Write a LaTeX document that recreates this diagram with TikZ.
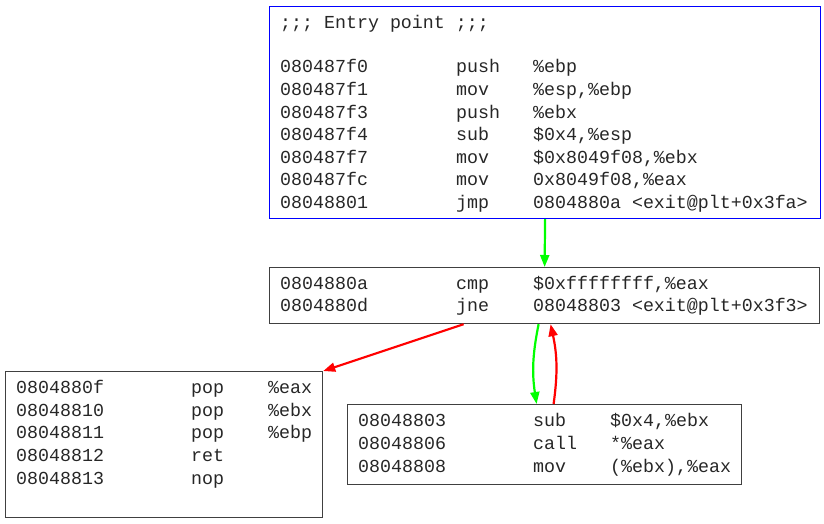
\documentclass[tikz,border=0pt]{standalone}
\usepackage{fontspec}
\setmonofont{Liberation Mono}
\usetikzlibrary{arrows.meta}

\begin{document}
\begin{tikzpicture}[x=1pt,y=-1pt,
		blk/.style={draw=black!75, line width=1.2pt, anchor=north west, inner sep=0pt},
		asm/.style={anchor=base west, inner sep=0pt, text=black!85, font=\ttfamily\fontsize{18.3}{22}\selectfont},
		flow/.style={line width=2.2pt, -{Triangle[length=12pt,width=9pt]}}]
		\useasboundingbox (0,0) rectangle (824,523);

		% basic blocks
		\node[blk, draw=blue, minimum width=551, minimum height=212] (entry) at (269,6) {};
		\node[blk, minimum width=550, minimum height=56] (loop) at (269,267) {};
		\node[blk, minimum width=317, minimum height=146] (exit) at (5,371) {};
		\node[blk, minimum width=394, minimum height=80] (body) at (347,404) {};

		\def \xa {280}
		\def \xb {16}
		\def \xc {358}

		\node[asm] (title) at (\xa,28) {;;; Entry point ;;;};
		\foreach \addr/\op/\arg [count=\i] in {080487f0/push/\%ebp, {080487f1/mov/\%esp,\%ebp},
			080487f3/push/\%ebx, {080487f4/sub/\$0x4,\%esp}, {080487f7/mov/\$0x8049f08,\%ebx},
			{080487fc/mov/0x8049f08,\%eax}, 08048801/jmp/0804880a <exit@plt+0x3fa>} {
			\node[asm] (ea\i) at (\xa,    50.2+22.6*\i) {\addr};
			\node[asm] (eo\i) at (\xa+176,50.2+22.6*\i) {\op};
			\node[asm] (eg\i) at (\xa+253,50.2+22.6*\i) {\arg};
		}

		\foreach \addr/\op/\arg [count=\i] in {{0804880a/cmp/\$0xffffffff,\%eax},
			0804880d/jne/08048803 <exit@plt+0x3f3>} {
			\node[asm] (la\i) at (\xa,    267.2+22.3*\i) {\addr};
			\node[asm] (lo\i) at (\xa+176,267.2+22.3*\i) {\op};
			\node[asm] (lg\i) at (\xa+253,267.2+22.3*\i) {\arg};
		}

		\foreach \addr/\op/\arg [count=\i] in {0804880f/pop/\%eax, 08048810/pop/\%ebx,
			08048811/pop/\%ebp, 08048812/ret/, 08048813/nop/} {
			\node[asm] (xa\i) at (\xb,    371+22.6*\i) {\addr};
			\node[asm] (xo\i) at (\xb+175,371+22.6*\i) {\op};
			\node[asm] (xg\i) at (\xb+252,371+22.6*\i) {\arg};
		}

		\foreach \addr/\op/\arg [count=\i] in {{08048803/sub/\$0x4,\%ebx}, 08048806/call/*\%eax,
			{08048808/mov/(\%ebx),\%eax}} {
			\node[asm] (ba\i) at (\xc,    404+22.8*\i) {\addr};
			\node[asm] (bo\i) at (\xc+175,404+22.8*\i) {\op};
			\node[asm] (bg\i) at (\xc+252,404+22.8*\i) {\arg};
		}

		% edges
		\draw[flow, green] (entry.south) -- (loop.north);
		\draw[flow, red] ([xshift=-81]loop.south) -- (exit.north east);
		\draw[flow, green] ([xshift=-6]loop.south) to[bend right=10] ([xshift=-8]body.north);
		\draw[flow, red] ([xshift=9]body.north) to[bend right=10] ([xshift=6]loop.south);
	\end{tikzpicture}
\end{document}
